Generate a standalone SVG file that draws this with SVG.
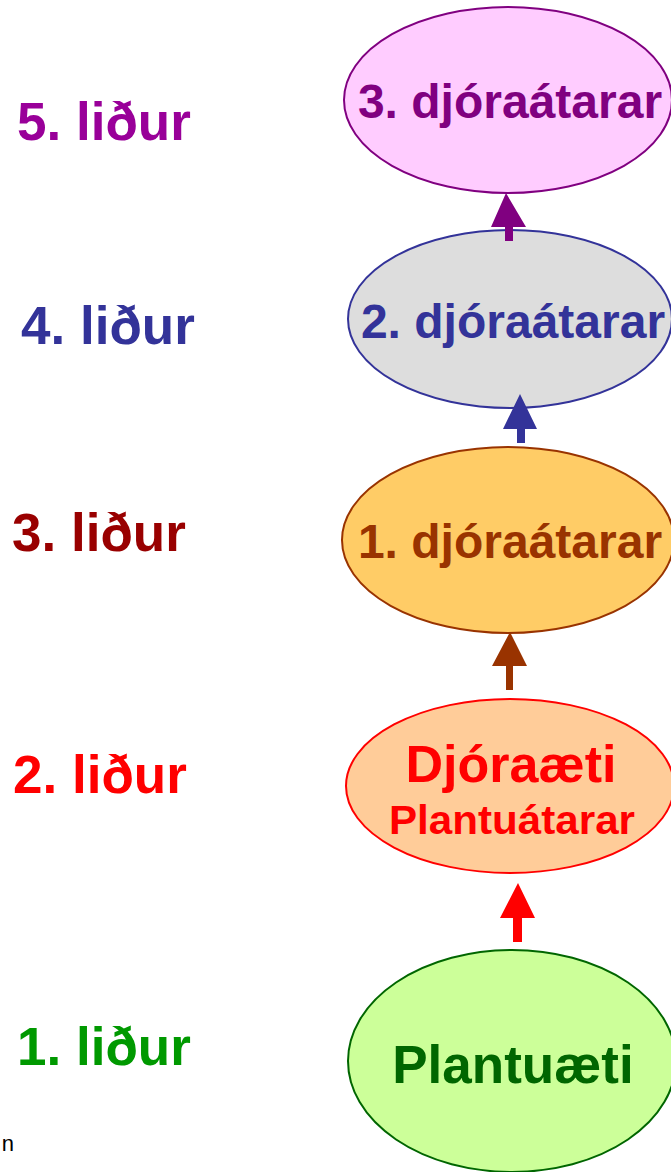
<svg xmlns="http://www.w3.org/2000/svg" width="671" height="1172" viewBox="0 0 671 1172">
<style>
text { font-family: "Liberation Sans", Arial, sans-serif; font-weight: bold; }
.lbl { font-size: 53px; }
.nt { font-size: 48px; text-anchor: middle; }
ellipse { stroke-width: 2; }
</style>
<rect width="671" height="1172" fill="#ffffff"/>
<g id="labels">
  <text class="lbl" x="17" y="140" fill="#990099">5. liður</text>
  <text class="lbl" x="21" y="344" fill="#333399">4. liður</text>
  <text class="lbl" x="12" y="551" fill="#990000">3. liður</text>
  <text class="lbl" x="13" y="793" fill="#ff0000">2. liður</text>
  <text class="lbl" x="17" y="1065" fill="#009900">1. liður</text>
  <text x="14" y="1151" text-anchor="end" style="font-weight:normal;font-size:22px" fill="#000000">n</text>
</g>
<g id="node5">
  <ellipse cx="508" cy="100" rx="164" ry="93" fill="#ffccff" stroke="#800080"/>
  <text class="nt" x="510" y="118" fill="#800080">3. djóraátarar</text>
</g>
<g id="node4">
  <ellipse cx="510" cy="319" rx="162" ry="89" fill="#dddddd" stroke="#333399"/>
  <text class="nt" x="513" y="338" fill="#333399">2. djóraátarar</text>
</g>
<g id="node3">
  <ellipse cx="508" cy="540" rx="166" ry="93" fill="#ffcc66" stroke="#993300"/>
  <text class="nt" x="510" y="558" fill="#993300">1. djóraátarar</text>
</g>
<g id="node2">
  <ellipse cx="510" cy="786" rx="164" ry="87" fill="#ffcc99" stroke="#ff0000"/>
  <text x="511" y="782" text-anchor="middle" style="font-size:52px" fill="#ff0000">Djóraæti</text>
  <text x="512" y="834" text-anchor="middle" style="font-size:40px" fill="#ff0000" textLength="246" lengthAdjust="spacingAndGlyphs">Plantuátarar</text>
</g>
<g id="node1">
  <ellipse cx="512" cy="1061" rx="164" ry="111" fill="#ccff99" stroke="#006600"/>
  <text x="513" y="1083" text-anchor="middle" style="font-size:53px" fill="#006600">Plantuæti</text>
</g>
<g id="connectors">
  <path d="M505,241 V227 H491 L506,193 L526,227 H513 V241 Z" fill="#800080"/>
  <path d="M517,443 V429 H503 L520,394 L537,429 H525 V443 Z" fill="#333399"/>
  <path d="M506,690 V666 H492 L510,632 L527,666 H513 V690 Z" fill="#993300"/>
  <path d="M513,942 V918 H500 L518,883 L535,918 H522 V942 Z" fill="#ff0000"/>
</g>
</svg>
